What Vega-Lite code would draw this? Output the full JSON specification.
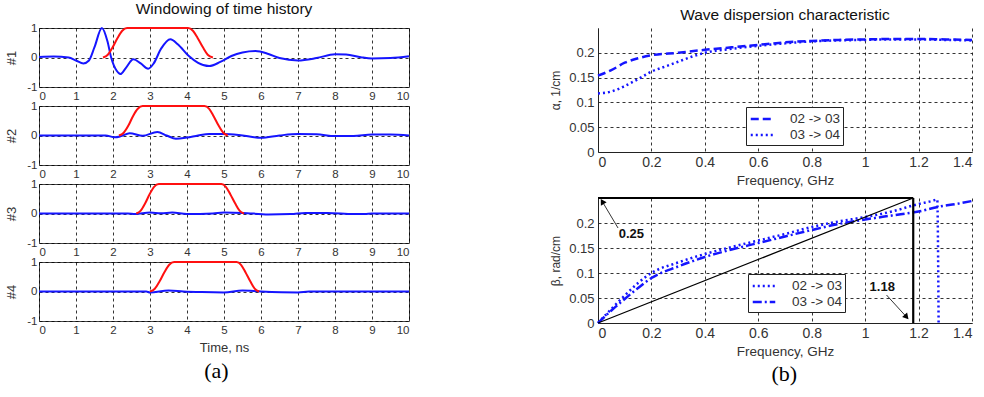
{
  "$schema": "https://vega.github.io/schema/vega-lite/v6.json",
  "padding": {"left": 5, "top": 1, "right": 5, "bottom": 5},
  "background": "white",
  "config": {
    "font": "Liberation Sans",
    "view": {"stroke": null},
    "axis": {
      "grid": true, "gridColor": "#000", "gridDash": [3, 3], "gridOpacity": 1, "gridWidth": 0.8,
      "ticks": false, "labelColor": "#333", "titleColor": "#333", "titleFontWeight": "normal",
      "domainColor": "#222", "labelFont": "Liberation Sans", "titleFont": "Liberation Sans", "labelOverlap": false
    },
    "title": {"font": "Liberation Sans", "fontWeight": "normal", "fontSize": 15.5, "color": "#111"},
    "line": {"interpolate": "monotone"}
  },
  "datasets": {
    "th": [
      {"p":1,"k":"signal","t":0,"v":0.02},{"p":1,"k":"signal","t":0.4,"v":0.03},{"p":1,"k":"signal","t":0.8,"v":0.0},{"p":1,"k":"signal","t":1.0,"v":-0.1},{"p":1,"k":"signal","t":1.2,"v":-0.2},{"p":1,"k":"signal","t":1.35,"v":-0.1},{"p":1,"k":"signal","t":1.5,"v":0.35},{"p":1,"k":"signal","t":1.7,"v":1.0},{"p":1,"k":"signal","t":1.85,"v":0.55},{"p":1,"k":"signal","t":1.95,"v":0.0},{"p":1,"k":"signal","t":2.1,"v":-0.45},{"p":1,"k":"signal","t":2.2,"v":-0.56},{"p":1,"k":"signal","t":2.35,"v":-0.35},{"p":1,"k":"signal","t":2.55,"v":-0.06},{"p":1,"k":"signal","t":2.75,"v":-0.2},{"p":1,"k":"signal","t":2.95,"v":-0.38},{"p":1,"k":"signal","t":3.1,"v":-0.2},{"p":1,"k":"signal","t":3.3,"v":0.3},{"p":1,"k":"signal","t":3.55,"v":0.62},{"p":1,"k":"signal","t":3.75,"v":0.45},{"p":1,"k":"signal","t":4.05,"v":0.05},{"p":1,"k":"signal","t":4.3,"v":-0.18},{"p":1,"k":"signal","t":4.6,"v":-0.29},{"p":1,"k":"signal","t":4.9,"v":-0.15},{"p":1,"k":"signal","t":5.2,"v":0.05},{"p":1,"k":"signal","t":5.5,"v":0.17},{"p":1,"k":"signal","t":5.85,"v":0.22},{"p":1,"k":"signal","t":6.2,"v":0.12},{"p":1,"k":"signal","t":6.5,"v":-0.02},{"p":1,"k":"signal","t":7.0,"v":-0.1},{"p":1,"k":"signal","t":7.5,"v":-0.02},{"p":1,"k":"signal","t":8.0,"v":0.11},{"p":1,"k":"signal","t":8.3,"v":0.1},{"p":1,"k":"signal","t":8.7,"v":0.01},{"p":1,"k":"signal","t":9.0,"v":-0.03},{"p":1,"k":"signal","t":9.5,"v":-0.02},{"p":1,"k":"signal","t":10,"v":0.04},
      {"p":1,"k":"window","t":1.73,"v":0},{"p":1,"k":"window","t":1.86,"v":0.095},{"p":1,"k":"window","t":1.99,"v":0.345},{"p":1,"k":"window","t":2.12,"v":0.655},{"p":1,"k":"window","t":2.25,"v":0.905},{"p":1,"k":"window","t":2.38,"v":1},{"p":1,"k":"window","t":4.03,"v":1},{"p":1,"k":"window","t":4.16,"v":0.905},{"p":1,"k":"window","t":4.29,"v":0.655},{"p":1,"k":"window","t":4.43,"v":0.345},{"p":1,"k":"window","t":4.56,"v":0.095},{"p":1,"k":"window","t":4.7,"v":0},
      {"p":2,"k":"signal","t":0,"v":0},{"p":2,"k":"signal","t":1.8,"v":0},{"p":2,"k":"signal","t":2.05,"v":-0.06},{"p":2,"k":"signal","t":2.2,"v":-0.03},{"p":2,"k":"signal","t":2.45,"v":0.08},{"p":2,"k":"signal","t":2.8,"v":-0.01},{"p":2,"k":"signal","t":3.2,"v":0.12},{"p":2,"k":"signal","t":3.45,"v":0.0},{"p":2,"k":"signal","t":3.7,"v":-0.11},{"p":2,"k":"signal","t":4.0,"v":-0.07},{"p":2,"k":"signal","t":4.3,"v":0.0},{"p":2,"k":"signal","t":4.6,"v":0.05},{"p":2,"k":"signal","t":5.0,"v":0.05},{"p":2,"k":"signal","t":5.4,"v":0.02},{"p":2,"k":"signal","t":6.0,"v":-0.08},{"p":2,"k":"signal","t":6.5,"v":0.0},{"p":2,"k":"signal","t":7.0,"v":0.05},{"p":2,"k":"signal","t":7.5,"v":0.04},{"p":2,"k":"signal","t":8.0,"v":-0.02},{"p":2,"k":"signal","t":8.5,"v":-0.02},{"p":2,"k":"signal","t":9.0,"v":0.03},{"p":2,"k":"signal","t":9.5,"v":0.03},{"p":2,"k":"signal","t":10,"v":0.0},
      {"p":2,"k":"window","t":2.16,"v":0},{"p":2,"k":"window","t":2.29,"v":0.095},{"p":2,"k":"window","t":2.42,"v":0.345},{"p":2,"k":"window","t":2.54,"v":0.655},{"p":2,"k":"window","t":2.67,"v":0.905},{"p":2,"k":"window","t":2.8,"v":1},{"p":2,"k":"window","t":4.47,"v":1},{"p":2,"k":"window","t":4.6,"v":0.905},{"p":2,"k":"window","t":4.72,"v":0.655},{"p":2,"k":"window","t":4.85,"v":0.345},{"p":2,"k":"window","t":4.98,"v":0.095},{"p":2,"k":"window","t":5.1,"v":0},
      {"p":3,"k":"signal","t":0,"v":0},{"p":3,"k":"signal","t":2.4,"v":0},{"p":3,"k":"signal","t":2.6,"v":-0.02},{"p":3,"k":"signal","t":3.0,"v":0.03},{"p":3,"k":"signal","t":3.3,"v":0.01},{"p":3,"k":"signal","t":3.6,"v":0.03},{"p":3,"k":"signal","t":4.0,"v":-0.02},{"p":3,"k":"signal","t":4.7,"v":0.0},{"p":3,"k":"signal","t":5.0,"v":0.03},{"p":3,"k":"signal","t":5.5,"v":0.02},{"p":3,"k":"signal","t":6.2,"v":-0.03},{"p":3,"k":"signal","t":6.8,"v":-0.02},{"p":3,"k":"signal","t":7.2,"v":0.02},{"p":3,"k":"signal","t":7.8,"v":0.02},{"p":3,"k":"signal","t":8.5,"v":-0.02},{"p":3,"k":"signal","t":8.8,"v":-0.02},{"p":3,"k":"signal","t":9.0,"v":0},{"p":3,"k":"signal","t":10,"v":0},
      {"p":3,"k":"window","t":2.63,"v":0},{"p":3,"k":"window","t":2.75,"v":0.095},{"p":3,"k":"window","t":2.87,"v":0.345},{"p":3,"k":"window","t":2.99,"v":0.655},{"p":3,"k":"window","t":3.11,"v":0.905},{"p":3,"k":"window","t":3.24,"v":1},{"p":3,"k":"window","t":4.93,"v":1},{"p":3,"k":"window","t":5.05,"v":0.905},{"p":3,"k":"window","t":5.17,"v":0.655},{"p":3,"k":"window","t":5.3,"v":0.345},{"p":3,"k":"window","t":5.42,"v":0.095},{"p":3,"k":"window","t":5.54,"v":0},
      {"p":4,"k":"signal","t":0,"v":0},{"p":4,"k":"signal","t":2.9,"v":0},{"p":4,"k":"signal","t":3.0,"v":-0.03},{"p":4,"k":"signal","t":3.5,"v":0.03},{"p":4,"k":"signal","t":3.9,"v":0.0},{"p":4,"k":"signal","t":4.4,"v":-0.02},{"p":4,"k":"signal","t":5.0,"v":-0.03},{"p":4,"k":"signal","t":5.5,"v":0.03},{"p":4,"k":"signal","t":6.0,"v":0.0},{"p":4,"k":"signal","t":7.0,"v":-0.03},{"p":4,"k":"signal","t":7.3,"v":0},{"p":4,"k":"signal","t":10,"v":0},
      {"p":4,"k":"window","t":3.0,"v":0},{"p":4,"k":"window","t":3.13,"v":0.095},{"p":4,"k":"window","t":3.26,"v":0.345},{"p":4,"k":"window","t":3.39,"v":0.655},{"p":4,"k":"window","t":3.52,"v":0.905},{"p":4,"k":"window","t":3.65,"v":1},{"p":4,"k":"window","t":5.34,"v":1},{"p":4,"k":"window","t":5.46,"v":0.905},{"p":4,"k":"window","t":5.58,"v":0.655},{"p":4,"k":"window","t":5.71,"v":0.345},{"p":4,"k":"window","t":5.83,"v":0.095},{"p":4,"k":"window","t":5.95,"v":0}
    ],
    "alpha": [
      {"s":"02 -> 03","f":0,"a":0.154},{"s":"02 -> 03","f":0.05,"a":0.165},{"s":"02 -> 03","f":0.1,"a":0.18},{"s":"02 -> 03","f":0.15,"a":0.189},{"s":"02 -> 03","f":0.2,"a":0.195},{"s":"02 -> 03","f":0.3,"a":0.2},{"s":"02 -> 03","f":0.4,"a":0.206},{"s":"02 -> 03","f":0.5,"a":0.211},{"s":"02 -> 03","f":0.6,"a":0.216},{"s":"02 -> 03","f":0.7,"a":0.221},{"s":"02 -> 03","f":0.8,"a":0.224},{"s":"02 -> 03","f":0.9,"a":0.226},{"s":"02 -> 03","f":1.0,"a":0.227},{"s":"02 -> 03","f":1.1,"a":0.228},{"s":"02 -> 03","f":1.2,"a":0.228},{"s":"02 -> 03","f":1.3,"a":0.227},{"s":"02 -> 03","f":1.4,"a":0.226},
      {"s":"03 -> 04","f":0,"a":0.118},{"s":"03 -> 04","f":0.05,"a":0.122},{"s":"03 -> 04","f":0.1,"a":0.133},{"s":"03 -> 04","f":0.15,"a":0.147},{"s":"03 -> 04","f":0.2,"a":0.162},{"s":"03 -> 04","f":0.25,"a":0.172},{"s":"03 -> 04","f":0.3,"a":0.182},{"s":"03 -> 04","f":0.35,"a":0.192},{"s":"03 -> 04","f":0.4,"a":0.2},{"s":"03 -> 04","f":0.5,"a":0.208},{"s":"03 -> 04","f":0.6,"a":0.214},{"s":"03 -> 04","f":0.7,"a":0.219},{"s":"03 -> 04","f":0.8,"a":0.223},{"s":"03 -> 04","f":0.9,"a":0.225},{"s":"03 -> 04","f":1.0,"a":0.226},{"s":"03 -> 04","f":1.1,"a":0.227},{"s":"03 -> 04","f":1.2,"a":0.227},{"s":"03 -> 04","f":1.3,"a":0.226},{"s":"03 -> 04","f":1.4,"a":0.225}
    ],
    "beta": [
      {"s":"02 -> 03","f":0,"b":0},{"s":"02 -> 03","f":0.05,"b":0.028},{"s":"02 -> 03","f":0.1,"b":0.055},{"s":"02 -> 03","f":0.15,"b":0.08},{"s":"02 -> 03","f":0.2,"b":0.1},{"s":"02 -> 03","f":0.3,"b":0.121},{"s":"02 -> 03","f":0.4,"b":0.138},{"s":"02 -> 03","f":0.5,"b":0.152},{"s":"02 -> 03","f":0.6,"b":0.165},{"s":"02 -> 03","f":0.7,"b":0.178},{"s":"02 -> 03","f":0.8,"b":0.192},{"s":"02 -> 03","f":0.9,"b":0.203},{"s":"02 -> 03","f":1.0,"b":0.212},{"s":"02 -> 03","f":1.1,"b":0.223},{"s":"02 -> 03","f":1.2,"b":0.238},{"s":"02 -> 03","f":1.25,"b":0.244},{"s":"02 -> 03","f":1.27,"b":0.247},{"s":"02 -> 03","f":1.275,"b":0.0},
      {"s":"03 -> 04","f":0,"b":0},{"s":"03 -> 04","f":0.05,"b":0.025},{"s":"03 -> 04","f":0.1,"b":0.048},{"s":"03 -> 04","f":0.15,"b":0.07},{"s":"03 -> 04","f":0.2,"b":0.09},{"s":"03 -> 04","f":0.3,"b":0.113},{"s":"03 -> 04","f":0.4,"b":0.132},{"s":"03 -> 04","f":0.5,"b":0.147},{"s":"03 -> 04","f":0.6,"b":0.16},{"s":"03 -> 04","f":0.7,"b":0.173},{"s":"03 -> 04","f":0.8,"b":0.186},{"s":"03 -> 04","f":0.9,"b":0.198},{"s":"03 -> 04","f":1.0,"b":0.207},{"s":"03 -> 04","f":1.1,"b":0.215},{"s":"03 -> 04","f":1.2,"b":0.223},{"s":"03 -> 04","f":1.28,"b":0.233},{"s":"03 -> 04","f":1.34,"b":0.238},{"s":"03 -> 04","f":1.4,"b":0.244}
    ],
    "ann": [
      {"id":"diag","f":0,"b":0,"f2":1.18,"b2":0.25},
      {"id":"vert","f":1.18,"b":0,"f2":1.18,"b2":0.25},
      {"id":"top","f":0,"b":0.25,"f2":1.18,"b2":0.25},
      {"id":"arr1","f":0.075,"b":0.19,"f2":0.016,"b2":0.243},
      {"id":"arr2","f":1.08,"b":0.056,"f2":1.155,"b2":0.012}
    ],
    "lbl": [
      {"label":"0.25","f":0.125,"b":0.178},
      {"label":"1.18","f":1.064,"b":0.072}
    ]
  },
  "hconcat": [
    {
      "bounds": "flush",
      "spacing": 19,
      "title": {"text": "(a)", "orient": "bottom", "anchor": "middle", "font": "Liberation Serif", "fontSize": 22, "color": "#000", "offset": 6, "dx": 7},
      "vconcat": [
        {
          "width": 370, "height": 59,
          "view": {"stroke": "#444"},
          "title": {"text": "Windowing of time history", "offset": 5},
          "data": {"name": "th"},
          "transform": [{"filter": "datum.p == 1"}],
          "mark": {"type": "line", "strokeWidth": 2},
          "encoding": {
            "x": {"field": "t", "type": "quantitative", "scale": {"domain": [0, 10], "nice": false}, "axis": {"values": [0,1,2,3,4,5,6,7,8,9,10], "tickCount": 20, "format": "d", "title": null, "domain": false, "labelFontSize": 11.5, "labelPadding": 3, "labelOverlap": false}},
            "y": {"field": "v", "type": "quantitative", "scale": {"domain": [-1, 1], "nice": false}, "axis": {"values": [-1, 0, 1], "tickCount": 20, "labelExpr": "toString(datum.value)", "title": "#1", "domain": false, "labelFontSize": 11.5, "titleFontSize": 13, "titlePadding": 8, "labelOverlap": false}},
            "color": {"field": "k", "type": "nominal", "scale": {"domain": ["signal", "window"], "range": ["#1515ff", "#ff1010"]}, "legend": null}
          }
        },
        {
          "width": 370, "height": 59,
          "view": {"stroke": "#444"},
          "data": {"name": "th"},
          "transform": [{"filter": "datum.p == 2"}],
          "mark": {"type": "line", "strokeWidth": 2},
          "encoding": {
            "x": {"field": "t", "type": "quantitative", "scale": {"domain": [0, 10], "nice": false}, "axis": {"values": [0,1,2,3,4,5,6,7,8,9,10], "tickCount": 20, "format": "d", "title": null, "domain": false, "labelFontSize": 11.5, "labelPadding": 3, "labelOverlap": false}},
            "y": {"field": "v", "type": "quantitative", "scale": {"domain": [-1, 1], "nice": false}, "axis": {"values": [-1, 0, 1], "tickCount": 20, "labelExpr": "toString(datum.value)", "title": "#2", "domain": false, "labelFontSize": 11.5, "titleFontSize": 13, "titlePadding": 8, "labelOverlap": false}},
            "color": {"field": "k", "type": "nominal", "scale": {"domain": ["signal", "window"], "range": ["#1515ff", "#ff1010"]}, "legend": null}
          }
        },
        {
          "width": 370, "height": 59,
          "view": {"stroke": "#444"},
          "data": {"name": "th"},
          "transform": [{"filter": "datum.p == 3"}],
          "mark": {"type": "line", "strokeWidth": 2},
          "encoding": {
            "x": {"field": "t", "type": "quantitative", "scale": {"domain": [0, 10], "nice": false}, "axis": {"values": [0,1,2,3,4,5,6,7,8,9,10], "tickCount": 20, "format": "d", "title": null, "domain": false, "labelFontSize": 11.5, "labelPadding": 3, "labelOverlap": false}},
            "y": {"field": "v", "type": "quantitative", "scale": {"domain": [-1, 1], "nice": false}, "axis": {"values": [-1, 0, 1], "tickCount": 20, "labelExpr": "toString(datum.value)", "title": "#3", "domain": false, "labelFontSize": 11.5, "titleFontSize": 13, "titlePadding": 8, "labelOverlap": false}},
            "color": {"field": "k", "type": "nominal", "scale": {"domain": ["signal", "window"], "range": ["#1515ff", "#ff1010"]}, "legend": null}
          }
        },
        {
          "width": 370, "height": 59,
          "view": {"stroke": "#444"},
          "data": {"name": "th"},
          "transform": [{"filter": "datum.p == 4"}],
          "mark": {"type": "line", "strokeWidth": 2},
          "encoding": {
            "x": {"field": "t", "type": "quantitative", "scale": {"domain": [0, 10], "nice": false}, "axis": {"values": [0,1,2,3,4,5,6,7,8,9,10], "tickCount": 20, "format": "d", "title": "Time, ns", "domain": false, "labelFontSize": 11.5, "labelPadding": 3, "titleFontSize": 13, "titlePadding": 6, "labelOverlap": false}},
            "y": {"field": "v", "type": "quantitative", "scale": {"domain": [-1, 1], "nice": false}, "axis": {"values": [-1, 0, 1], "tickCount": 20, "labelExpr": "toString(datum.value)", "title": "#4", "domain": false, "labelFontSize": 11.5, "titleFontSize": 13, "titlePadding": 8, "labelOverlap": false}},
            "color": {"field": "k", "type": "nominal", "scale": {"domain": ["signal", "window"], "range": ["#1515ff", "#ff1010"]}, "legend": null}
          }
        }
      ]
    },
    {
      "bounds": "flush",
      "spacing": 46,
      "title": {"text": "(b)", "orient": "bottom", "anchor": "middle", "font": "Liberation Serif", "fontSize": 22, "color": "#000", "offset": 6, "dx": 21},
      "resolve": {"scale": {"strokeDash": "independent", "y": "independent"}, "legend": {"strokeDash": "independent"}, "axis": {"y": "independent"}},
      "vconcat": [
        {
          "width": 374, "height": 124,
          "title": {"text": "Wave dispersion characteristic", "offset": 5},
          "layer": [
            {
              "data": {"name": "alpha"},
              "mark": {"type": "line", "strokeWidth": 2.5, "color": "#1515ff"},
              "encoding": {
                "x": {"field": "f", "type": "quantitative", "scale": {"domain": [0, 1.4], "nice": false}, "axis": {"values": [0,0.2,0.4,0.6,0.8,1,1.2,1.4], "tickCount": 20, "format": ".1~f", "title": "Frequency, GHz", "labelFontSize": 14, "titleFontSize": 13.5, "labelPadding": 3, "titlePadding": 4, "labelOverlap": false}},
                "y": {"field": "a", "type": "quantitative", "scale": {"domain": [0, 0.25], "nice": false}, "axis": {"values": [0,0.05,0.1,0.15,0.2], "tickCount": 20, "format": ".2~f", "title": "α, 1/cm", "labelFontSize": 13, "titleFontSize": 12, "labelPadding": 4, "titlePadding": 6, "labelOverlap": false}},
                "strokeDash": {"field": "s", "type": "nominal", "scale": {"domain": ["02 -> 03", "03 -> 04"], "range": [[8, 4], [2, 3]]},
                  "legend": {"title": null, "orient": "none", "legendX": 148, "legendY": 79, "symbolType": "M-1.5,0H1.5", "symbolFillColor": "transparent", "symbolStrokeWidth": 2.5, "symbolStrokeColor": "#1515ff", "symbolSize": 225, "symbolOffset": 4, "labelOffset": 19, "labelFontSize": 13.5, "labelColor": "#333", "strokeColor": "#222", "fillColor": "white", "padding": 3, "rowPadding": 0}}
              }
            },
            {
              "mark": {"type": "rule", "color": "#222", "strokeWidth": 1},
              "encoding": {"x": {"datum": 1.4}}
            }
          ]
        },
        {
          "width": 374, "height": 125,
          "layer": [
            {
              "data": {"name": "beta"},
              "mark": {"type": "line", "strokeWidth": 2.5, "color": "#1515ff"},
              "encoding": {
                "x": {"field": "f", "type": "quantitative", "scale": {"domain": [0, 1.4], "nice": false}, "axis": {"values": [0,0.2,0.4,0.6,0.8,1,1.2,1.4], "tickCount": 20, "format": ".1~f", "title": "Frequency, GHz", "labelFontSize": 14, "titleFontSize": 13.5, "labelPadding": 3, "titlePadding": 4, "labelOverlap": false}},
                "y": {"field": "b", "type": "quantitative", "scale": {"domain": [0, 0.25], "nice": false}, "axis": {"values": [0,0.05,0.1,0.15,0.2], "tickCount": 20, "format": ".2~f", "title": "β, rad/cm", "labelFontSize": 13, "titleFontSize": 12, "labelPadding": 4, "titlePadding": 6, "labelOverlap": false}},
                "strokeDash": {"field": "s", "type": "nominal", "scale": {"domain": ["02 -> 03", "03 -> 04"], "range": [[2, 3], [9, 3, 2, 3]]},
                  "legend": {"title": null, "orient": "none", "legendX": 150, "legendY": 76, "symbolType": "M-1.5,0H1.5", "symbolFillColor": "transparent", "symbolStrokeWidth": 2.5, "symbolStrokeColor": "#1515ff", "symbolSize": 225, "symbolOffset": 4, "labelOffset": 19, "labelFontSize": 13.5, "labelColor": "#333", "strokeColor": "#222", "fillColor": "white", "padding": 3, "rowPadding": 0}}
              }
            },
            {
              "data": {"name": "ann"},
              "transform": [{"filter": "datum.id == 'diag'"}],
              "mark": {"type": "rule", "color": "#000", "strokeWidth": 1.3},
              "encoding": {"x": {"field": "f", "type": "quantitative"}, "y": {"field": "b", "type": "quantitative"}, "x2": {"field": "f2"}, "y2": {"field": "b2"}}
            },
            {
              "data": {"name": "ann"},
              "transform": [{"filter": "datum.id == 'vert' || datum.id == 'top'"}],
              "mark": {"type": "rule", "color": "#000", "strokeWidth": 2.2},
              "encoding": {"x": {"field": "f", "type": "quantitative"}, "y": {"field": "b", "type": "quantitative"}, "x2": {"field": "f2"}, "y2": {"field": "b2"}}
            },
            {
              "data": {"name": "ann"},
              "transform": [{"filter": "datum.id == 'arr1' || datum.id == 'arr2'"}],
              "mark": {"type": "rule", "color": "#000", "strokeWidth": 0.8},
              "encoding": {"x": {"field": "f", "type": "quantitative"}, "y": {"field": "b", "type": "quantitative"}, "x2": {"field": "f2"}, "y2": {"field": "b2"}}
            },
            {
              "data": {"name": "ann"},
              "transform": [{"filter": "datum.id == 'arr1'"}],
              "mark": {"type": "point", "shape": "triangle-up", "filled": true, "color": "#000", "size": 45, "opacity": 1, "angle": 329},
              "encoding": {"x": {"field": "f2", "type": "quantitative"}, "y": {"field": "b2", "type": "quantitative"}}
            },
            {
              "data": {"name": "ann"},
              "transform": [{"filter": "datum.id == 'arr2'"}],
              "mark": {"type": "point", "shape": "triangle-up", "filled": true, "color": "#000", "size": 45, "opacity": 1, "angle": 138},
              "encoding": {"x": {"field": "f2", "type": "quantitative"}, "y": {"field": "b2", "type": "quantitative"}}
            },
            {
              "data": {"name": "lbl"},
              "mark": {"type": "text", "fontWeight": "bold", "fontSize": 13, "color": "#111"},
              "encoding": {"x": {"field": "f", "type": "quantitative"}, "y": {"field": "b", "type": "quantitative"}, "text": {"field": "label"}}
            }
          ]
        }
      ]
    }
  ],
  "spacing": 135,
  "bounds": "full"
}
